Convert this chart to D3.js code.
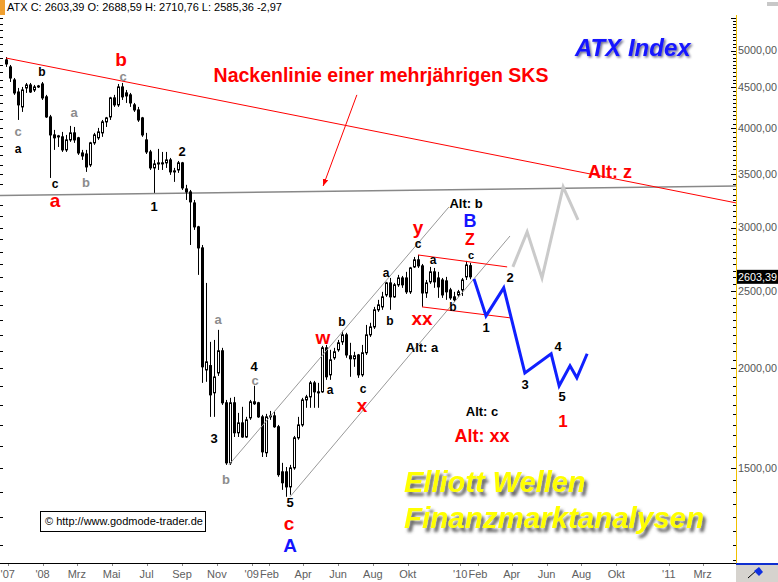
<!DOCTYPE html>
<html lang="de">
<head>
<meta charset="UTF-8">
<script src="https://cdn.jsdelivr.net/npm/d3@7/dist/d3.min.js"></script>
<title>ATX Index</title>
<style>
  body { margin: 0; background: #fff; }
  text { font-family: Arial, "Liberation Sans", sans-serif; }
</style>
</head>
<body>
<script>
    // weekly candles, first bar = week of 29 Oct 2007
    const firstWeek = "2007-10-29";

    const opens = [4868, 4771, 4595, 4438, 4251, 4490, 4529, 4464, 4510, 4542,
        4376, 4130, 3921, 3899, 3899, 3755, 3865, 3944, 3888, 3722,
        3711, 3596, 3832, 3888, 3944, 4071, 4130, 4363, 4276, 4503,
        4426, 4401, 4276, 4214, 4118, 3865, 3733, 3565, 3606, 3617,
        3617, 3648, 3534, 3544, 3617, 3355, 3326, 3222, 3007, 2830,
        1990, 2015, 1863, 1973, 2103, 1810, 1522, 1810, 1660, 1708,
        1640, 1733, 1815, 1810, 1738, 1567, 1738, 1743, 1689, 1483,
        1483, 1420, 1500, 1636, 1698, 1825, 1841, 1917, 1868, 1868,
        2121, 1962, 2061, 2109, 2158, 2202, 2073, 2055, 2078, 1962,
        2091, 2202, 2253, 2367, 2387, 2471, 2558, 2457, 2544, 2595,
        2595, 2493, 2679, 2734, 2687, 2485, 2566, 2641, 2595, 2580,
        2573, 2507, 2457, 2471, 2507, 2603, 2688.59];

    const highs = [4909, 4798, 4621, 4490, 4503, 4555, 4555, 4529, 4529, 4568,
        4401, 4154, 3978, 3921, 3955, 3921, 4024, 4012, 3899, 3755,
        3755, 3843, 3944, 4001, 4094, 4130, 4376, 4401, 4542, 4555,
        4464, 4426, 4300, 4251, 4130, 3944, 3755, 3648, 3766, 3733,
        3733, 3669, 3565, 3637, 3627, 3395, 3345, 3250, 3016, 2854,
        2558, 2158, 2170, 2234, 2121, 1825, 1836, 1841, 1758, 1789,
        1738, 1825, 1901, 1815, 1748, 1753, 1768, 1768, 1698, 1522,
        1504, 1513, 1645, 1738, 1836, 1852, 1928, 1928, 1917, 2133,
        2139, 2109, 2121, 2170, 2228, 2215, 2152, 2097, 2084, 2139,
        2266, 2280, 2387, 2436, 2493, 2566, 2595, 2558, 2618, 2610,
        2641, 2679, 2757, 2773, 2702, 2580, 2679, 2671, 2641, 2595,
        2603, 2522, 2493, 2507, 2595, 2726, 2710.76];

    const lows = [4771, 4568, 4401, 4094, 4190, 4426, 4426, 4438, 4490, 4337,
        4118, 3463, 3755, 3787, 3733, 3733, 3843, 3832, 3701, 3648,
        3524, 3575, 3810, 3865, 3899, 4012, 4094, 4251, 4251, 4337,
        4300, 4251, 4190, 4071, 3899, 3711, 3544, 3317, 3544, 3544,
        3565, 3494, 3424, 3514, 3345, 3250, 2854, 2981, 2618, 1917,
        1923, 1738, 1738, 1956, 1799, 1513, 1513, 1640, 1640, 1636,
        1636, 1723, 1799, 1733, 1548, 1548, 1723, 1684, 1462, 1408,
        1380, 1388, 1492, 1627, 1689, 1784, 1784, 1784, 1784, 1863,
        1934, 1934, 2049, 2097, 2139, 2061, 1951, 2008, 1945, 1951,
        2078, 2189, 2240, 2353, 2367, 2457, 2367, 2450, 2529, 2522,
        2478, 2478, 2671, 2671, 2387, 2450, 2551, 2522, 2450, 2450,
        2436, 2436, 2422, 2457, 2464, 2580, 2585.36];

    const closes = [4812, 4621, 4426, 4276, 4464, 4529, 4438, 4503, 4516, 4363,
        4130, 3921, 3888, 3910, 3755, 3865, 3944, 3865, 3722, 3690,
        3575, 3832, 3921, 3955, 4071, 4118, 4363, 4276, 4503, 4376,
        4388, 4300, 4214, 4094, 3921, 3733, 3565, 3606, 3617, 3612,
        3648, 3524, 3529, 3617, 3365, 3326, 3232, 3007, 2830, 2008,
        2037, 1852, 1950, 2103, 1810, 1522, 1810, 1660, 1708, 1640,
        1723, 1815, 1805, 1738, 1571, 1738, 1743, 1689, 1471, 1437,
        1420, 1500, 1636, 1698, 1825, 1841, 1917, 1868, 1863, 2121,
        1951, 2049, 2097, 2152, 2202, 2078, 2055, 2073, 1962, 2091,
        2202, 2253, 2367, 2401, 2457, 2558, 2457, 2544, 2595, 2544,
        2493, 2671, 2734, 2687, 2485, 2558, 2641, 2566, 2529, 2471,
        2493, 2450, 2436, 2493, 2580, 2694, 2603.39];

    const priceLabels = [1500, 2000, 2500, 3000, 3500, 4000, 4500, 5000];
    const monthDates = ["2007-11-01", "2008-01-01", "2008-03-01", "2008-05-01", "2008-07-01", "2008-09-01",
        "2008-11-01", "2009-01-01", "2009-02-01", "2009-04-01", "2009-06-01", "2009-08-01", "2009-10-01",
        "2010-01-01", "2010-02-01", "2010-04-01", "2010-06-01", "2010-08-01", "2010-10-01", "2011-01-01", "2011-03-01"];
    const monthLabels = ["'07", "'08", "Mrz", "Mai", "Jul", "Sep", "Nov", "'09", "Feb", "Apr", "Jun", "Aug", "Okt",
        "'10", "Feb", "Apr", "Jun", "Aug", "Okt", "'11", "Mrz"];

    // drawn trend lines and forecast paths  [date, price]
    const neckline = [["2007-10-29", 4895], ["2011-04-29", 3222]];
    const supportLine = [["2007-10-18", 3292], ["2011-04-29", 3384]];
    const channelUpper = [["2008-11-22", 1513], ["2009-12-12", 3184]];
    const channelLower = [["2009-03-09", 1380], ["2010-03-29", 2929]];
    const redUpper = [["2009-10-19", 2773], ["2010-03-24", 2679]];
    const redLower = [["2009-10-26", 2387], ["2010-03-29", 2313]];
    const bluePath = [["2010-01-25", 2588], ["2010-02-15", 2326], ["2010-03-18", 2522], ["2010-04-24", 1973],
        ["2010-06-09", 2085], ["2010-06-23", 1901], ["2010-07-12", 2014], ["2010-07-24", 1945], ["2010-08-11", 2085]];
    const greyPath = [["2010-04-03", 2679], ["2010-04-28", 2964], ["2010-05-24", 2595], ["2010-06-30", 3374], ["2010-07-26", 3068]];
    const arrowLine = [["2009-07-04", 4401], ["2009-05-06", 3384]];

    const lastClose = 2603.39;

    let width = 778,
        height = 582,
        plotRight = 736,
        plotTop = 15,
        plotBottom = 563;

    const parse = d3.timeParse("%Y-%m-%d");
    const fmt = v => v.toFixed(2).replace(".", ",");

    let x = d3.scaleTime()
            .domain([parse("2007-10-29"), parse("2011-04-29")])
            .range([6, 736.3]),
        y = d3.scaleLog()
            .domain([1140, 5542])
            .range([plotBottom, plotTop]);

    const dates = opens.map((d, i) => d3.timeDay.offset(parse(firstWeek), 7 * i));

    let svg = d3.select("body")
        .append("svg")
        .attr("width", width)
        .attr("height", height)
        .style("display", "block");

    let defs = svg.append("defs");
    defs.append("clipPath").attr("id", "plot")
        .append("rect").attr("x", 0).attr("y", plotTop)
        .attr("width", plotRight).attr("height", plotBottom - plotTop);

    let sh = defs.append("filter").attr("id", "shadow")
        .attr("x", "-10%").attr("y", "-20%").attr("width", "130%").attr("height", "160%");
    sh.append("feDropShadow").attr("dx", 3).attr("dy", 4).attr("stdDeviation", 1.6)
        .attr("flood-color", "#444").attr("flood-opacity", 0.8);

    let sh2 = defs.append("filter").attr("id", "shadow2")
        .attr("x", "-10%").attr("y", "-20%").attr("width", "130%").attr("height", "160%");
    sh2.append("feDropShadow").attr("dx", 1.5).attr("dy", 1.5).attr("stdDeviation", 0.8)
        .attr("flood-color", "#000033").attr("flood-opacity", 0.6);

    defs.append("marker").attr("id", "arrow")
        .attr("viewBox", "0 0 10 10").attr("refX", 10).attr("refY", 5)
        .attr("markerWidth", 7).attr("markerHeight", 7).attr("orient", "auto")
        .append("path").attr("d", "M0,1L10,5L0,9z").attr("fill", "#ff0000");

    // ---- axes ----
    // bottom
    svg.append("line")
        .attr("x1", 0).attr("x2", plotRight)
        .attr("y1", plotBottom + 0.5).attr("y2", plotBottom + 0.5)
        .attr("stroke", "#000").attr("stroke-width", 1);

    svg.selectAll("line.xtick")
        .data(monthDates)
        .enter().append("line")
        .attr("class", "xtick")
        .attr("x1", d => Math.round(x(parse(d))) + 0.5)
        .attr("x2", d => Math.round(x(parse(d))) + 0.5)
        .attr("y1", plotBottom + 1).attr("y2", plotBottom + 3)
        .attr("stroke", "#888");

    svg.selectAll("text.xlab")
        .data(monthDates)
        .enter().append("text")
        .attr("class", "xlab")
        .attr("x", d => x(parse(d)))
        .attr("y", 578)
        .attr("text-anchor", "middle")
        .attr("font-size", 11)
        .attr("fill", "#606060")
        .text((d, i) => monthLabels[i]);

    // right
    svg.append("line")
        .attr("x1", plotRight + 0.5).attr("x2", plotRight + 0.5)
        .attr("y1", plotTop).attr("y2", plotBottom)
        .attr("stroke", "#f0c000").attr("stroke-width", 1);

    const minor = d3.range(1150, 5550, 50);
    svg.selectAll("line.ytick")
        .data(minor)
        .enter().append("line")
        .attr("class", "ytick")
        .attr("x1", d => d % 500 === 0 ? plotRight - 5 : plotRight - 3)
        .attr("x2", plotRight)
        .attr("y1", d => Math.round(y(d)) + 0.5)
        .attr("y2", d => Math.round(y(d)) + 0.5)
        .attr("stroke", "#000");

    svg.selectAll("line.ltick")
        .data(d3.range(1200, 5550, 100))
        .enter().append("line")
        .attr("class", "ltick")
        .attr("x1", 0).attr("x2", 3)
        .attr("y1", d => Math.round(y(d)) + 0.5)
        .attr("y2", d => Math.round(y(d)) + 0.5)
        .attr("stroke", "#000");

    svg.selectAll("text.ylab")
        .data(priceLabels)
        .enter().append("text")
        .attr("class", "ylab")
        .attr("x", plotRight + 2)
        .attr("y", d => y(d))
        .attr("dy", "0.36em")
        .attr("font-size", 10.5)
        .attr("textLength", 39)
        .attr("lengthAdjust", "spacingAndGlyphs")
        .attr("fill", "#555")
        .text(fmt);

    svg.append("rect")
        .attr("x", plotRight + 1).attr("y", y(lastClose) - 7)
        .attr("width", width - plotRight - 1).attr("height", 14)
        .attr("fill", "#000");
    svg.append("text")
        .attr("x", plotRight + 2).attr("y", y(lastClose))
        .attr("dy", "0.36em")
        .attr("font-size", 10.5).attr("fill", "#fff")
        .attr("textLength", 39)
        .attr("lengthAdjust", "spacingAndGlyphs")
        .text(fmt(lastClose));

    // corner widgets
    svg.append("rect").attr("x", plotRight).attr("y", plotBottom)
        .attr("width", width - plotRight).attr("height", height - plotBottom)
        .attr("fill", "#d6d3ce");
    svg.append("line").attr("x1", plotRight).attr("x2", width)
        .attr("y1", plotBottom + 1).attr("y2", plotBottom + 1)
        .attr("stroke", "#1030d0").attr("stroke-width", 2);
    svg.append("path").attr("d", "M748,578 L757,570").attr("stroke", "#000").attr("stroke-width", 1);
    svg.append("path").attr("d", "M754,571 L759,567 L763,572 L759,576 Z").attr("fill", "#1030e0");
    svg.append("rect").attr("x", 767).attr("y", 2).attr("width", 11).attr("height", 4).attr("fill", "#c8c8c8");

    // header
    svg.append("rect").attr("x", 0).attr("y", 0).attr("width", 5).attr("height", 15).attr("fill", "#f0a030");
    svg.append("text").attr("x", 7).attr("y", 11).attr("font-size", 11).attr("fill", "#000")
        .text("ATX C: 2603,39 O: 2688,59 H: 2710,76 L: 2585,36 -2,97");

    // ---- candles ----
    let plot = svg.append("g").attr("clip-path", "url(#plot)");

    let line = d3.line()
        .x(d => x(parse(d[0])))
        .y(d => y(d[1]));

    plot.append("path").attr("d", line(supportLine))
        .attr("fill", "none").attr("stroke", "#888").attr("stroke-width", 1.5);

    let bars = plot.selectAll("g.candle")
        .data(d3.range(opens.length))
        .enter().append("g")
        .attr("class", "candle");

    bars.append("line")
        .attr("x1", i => Math.round(x(dates[i])) + 0.5)
        .attr("x2", i => Math.round(x(dates[i])) + 0.5)
        .attr("y1", i => y(highs[i]))
        .attr("y2", i => y(lows[i]))
        .attr("stroke", "#000");

    bars.append("rect")
        .attr("x", i => Math.round(x(dates[i])) - 0.5)
        .attr("y", i => y(Math.max(opens[i], closes[i])))
        .attr("width", 2)
        .attr("height", i => Math.max(1, y(Math.min(opens[i], closes[i])) - y(Math.max(opens[i], closes[i]))))
        .attr("fill", i => closes[i] >= opens[i] ? "#fff" : "#000")
        .attr("stroke", "#000");

    // ---- trend lines ----
    plot.append("path").attr("d", line(neckline))
        .attr("fill", "none").attr("stroke", "#ff0000").attr("stroke-width", 1);
    [channelUpper, channelLower].forEach(c => {
        plot.append("path").attr("d", line(c))
            .attr("fill", "none").attr("stroke", "#999").attr("stroke-width", 1);
    });
    [redUpper, redLower].forEach(c => {
        plot.append("path").attr("d", line(c))
            .attr("fill", "none").attr("stroke", "#ff0000").attr("stroke-width", 1);
    });
    plot.append("path").attr("d", line(greyPath))
        .attr("fill", "none").attr("stroke", "#cacaca").attr("stroke-width", 3);
    plot.append("path").attr("d", line(bluePath))
        .attr("fill", "none").attr("stroke", "#1020ff").attr("stroke-width", 3);
    plot.append("path").attr("d", line(arrowLine))
        .attr("fill", "none").attr("stroke", "#ff0000").attr("stroke-width", 1)
        .attr("marker-end", "url(#arrow)");

    // ---- annotations ----
    const labels = [
        // [text, x, y, size, colour]
        ["b", 42, 72, 12, "#000"], ["a", 18, 149, 12, "#000"], ["c", 55, 184, 12, "#000"],
        ["1", 154, 206, 13, "#000"], ["2", 182, 151, 13, "#000"], ["3", 214, 438, 13, "#000"],
        ["4", 254, 366, 13, "#000"], ["5", 290, 502, 13, "#000"],
        ["b", 342, 322, 12, "#000"], ["a", 330, 390, 12, "#000"], ["c", 363, 389, 12, "#000"],
        ["a", 386, 273, 12, "#000"], ["b", 390, 321, 12, "#000"], ["c", 418, 244, 12, "#000"],
        ["a", 433, 260, 12, "#000"], ["b", 453, 307, 12, "#000"], ["c", 471, 255, 11, "#000"],
        ["1", 486, 327, 13, "#000"], ["2", 510, 277, 13, "#000"],
        ["3", 525, 384, 13, "#000"], ["4", 558, 346, 13, "#000"], ["5", 562, 396, 13, "#000"],
        ["Alt: b", 466, 203, 13, "#000"], ["Alt: a", 422, 347, 13, "#000"], ["Alt: c", 482, 411, 13, "#000"],
        ["c", 18, 131, 13, "#8c8c8c"], ["a", 74, 112, 13, "#8c8c8c"], ["b", 86, 182, 13, "#8c8c8c"],
        ["c", 123, 76, 13, "#8c8c8c"], ["a", 218, 319, 13, "#8c8c8c"], ["c", 255, 380, 13, "#8c8c8c"],
        ["b", 226, 479, 13, "#8c8c8c"],
        ["b", 121, 59, 19, "#ff0000"], ["a", 55, 200, 19, "#ff0000"], ["w", 323, 337, 19, "#ff0000"],
        ["x", 362, 405, 19, "#ff0000"], ["y", 418, 227, 19, "#ff0000"], ["xx", 422, 318, 19, "#ff0000"],
        ["Z", 470, 239, 16, "#ff0000"], ["c", 289, 523, 19, "#ff0000"], ["1", 563, 421, 17, "#ff0000"],
        ["Alt: z", 610, 172, 18, "#ff0000"], ["Alt: xx", 482, 436, 18, "#ff0000"],
        ["B", 470, 221, 18, "#1414ff"], ["A", 290, 545, 19, "#1414ff"],
        ["Nackenlinie einer mehrjährigen SKS", 381, 75, 19.5, "#ff0000"]
    ];

    svg.selectAll("text.wave")
        .data(labels)
        .enter().append("text")
        .attr("class", "wave")
        .attr("x", d => d[1])
        .attr("y", d => d[2])
        .attr("dy", "0.36em")
        .attr("text-anchor", "middle")
        .attr("font-size", d => d[3])
        .attr("font-weight", "bold")
        .attr("fill", d => d[4])
        .text(d => d[0]);

    svg.append("text")
        .attr("x", 575).attr("y", 56)
        .attr("font-size", 24).attr("font-weight", "bold").attr("font-style", "italic")
        .attr("fill", "#1414ff").attr("filter", "url(#shadow2)")
        .text("ATX Index");

    svg.append("text")
        .attr("x", 404).attr("y", 492)
        .attr("font-size", 29).attr("font-weight", "bold").attr("font-style", "italic")
        .attr("fill", "#ffff00").attr("filter", "url(#shadow)")
        .text("Elliott Wellen");
    svg.append("text")
        .attr("x", 404).attr("y", 528)
        .attr("font-size", 29.5).attr("font-weight", "bold").attr("font-style", "italic")
        .attr("fill", "#ffff00").attr("filter", "url(#shadow)")
        .text("Finanzmarktanalysen");

    svg.append("rect")
        .attr("x", 40.5).attr("y", 511.5).attr("width", 165).attr("height", 20)
        .attr("fill", "#fff").attr("stroke", "#000");
    svg.append("text")
        .attr("x", 45).attr("y", 525).attr("font-size", 11).attr("fill", "#000")
        .text("© http://www.godmode-trader.de");
</script>
</body>
</html>
